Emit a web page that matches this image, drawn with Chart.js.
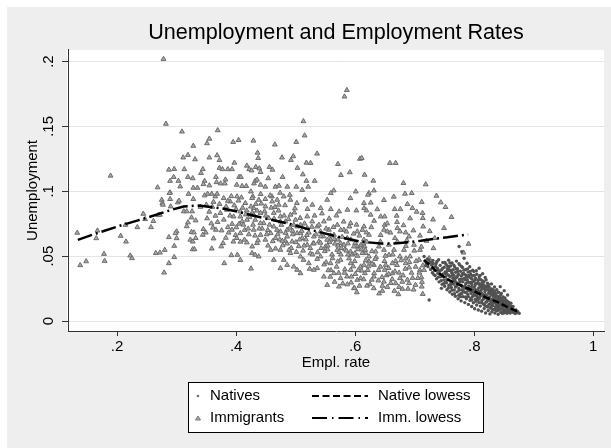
<!DOCTYPE html>
<html>
<head>
<meta charset="utf-8">
<script src="https://cdn.jsdelivr.net/npm/chart.js@4.4.1/dist/chart.umd.min.js"></script>
<style>
  body { margin: 0; background: #fff; }
  #wrap { width: 611px; height: 448px; }
</style>
</head>
<body>
<div id="wrap"><canvas id="chart" width="611" height="448"></canvas></div>
<script>
// tick values and labels
const xTicks = [0.2, 0.4, 0.6, 0.8, 1];
const xTickLabels = ['.2', '.4', '.6', '.8', '1'];
const yTicks = [0, 0.05, 0.1, 0.15, 0.2];
const yTickLabels = ['0', '.05', '.1', '.15', '.2'];

// [empl. rate, unemployment]
const immigrants = [
  [0.189,0.112],[0.268,0.103],[0.287,0.1166],[0.296,0.1171],[0.289,0.108],[0.295,0.111],[0.289,0.099],[0.289,0.094],
  [0.275,0.0934],[0.276,0.0909],[0.277,0.0896],[0.269,0.0816],[0.272,0.0819],[0.290,0.0883],[0.244,0.0826],[0.247,0.0785],
  [0.261,0.077],[0.257,0.0723],[0.234,0.0723],[0.214,0.0741],[0.206,0.0656],[0.215,0.0612],[0.167,0.0697],[0.165,0.0638],
  [0.133,0.068],[0.178,0.0517],[0.179,0.0463],[0.148,0.046],[0.138,0.043],[0.222,0.0504],[0.225,0.0484],[0.265,0.0523],
  [0.272,0.0527],[0.280,0.0548],[0.287,0.0646],[0.296,0.0579],[0.296,0.0492],[0.287,0.0445],[0.279,0.0373],[0.300,0.069],
  [0.300,0.0638],
  [0.278,0.202],[0.282,0.152],[0.309,0.146],[0.369,0.147],[0.355,0.1405],[0.351,0.137],[0.328,0.135],[0.395,0.138],
  [0.404,0.1395],[0.429,0.139],[0.465,0.136],[0.501,0.138],[0.513,0.154],[0.515,0.143],[0.586,0.178],[0.582,0.173],
  [0.536,0.129],[0.311,0.126],[0.319,0.128],[0.331,0.1246],[0.355,0.126],[0.368,0.1277],[0.372,0.124],[0.397,0.122],
  [0.436,0.1297],[0.437,0.1256],[0.477,0.126],[0.496,0.127],[0.492,0.124],[0.518,0.122],[0.525,0.1218],[0.503,0.118],
  [0.571,0.121],[0.576,0.1125],[0.591,0.1146],[0.608,0.125],[0.313,0.117],[0.344,0.117],[0.341,0.114],[0.372,0.118],
  [0.377,0.117],[0.386,0.117],[0.393,0.117],[0.418,0.1197],[0.422,0.117],[0.426,0.116],[0.433,0.1187],[0.439,0.1176],
  [0.441,0.1148],[0.456,0.1187],[0.461,0.1166],[0.512,0.113],[0.518,0.108],[0.532,0.108],[0.478,0.111],[0.303,0.108],
  [0.319,0.111],[0.327,0.110],[0.347,0.108],[0.345,0.1055],[0.355,0.1045],[0.366,0.111],[0.367,0.107],[0.374,0.106],
  [0.381,0.106],[0.382,0.109],[0.405,0.111],[0.408,0.111],[0.401,0.105],[0.417,0.104],[0.410,0.104],[0.430,0.106],
  [0.432,0.108],[0.454,0.110],[0.306,0.1037],[0.328,0.1027],[0.335,0.1027],[0.449,0.1035],[0.466,0.1035],[0.486,0.1035],
  [0.501,0.1035],[0.521,0.1035],[0.611,0.1256],[0.435,0.1089],[0.441,0.105],[0.472,0.1042],[0.511,0.101],[0.564,0.1006],
  [0.601,0.0998],[0.623,0.0986],[0.559,0.0986],[0.553,0.0934],[0.592,0.0947],
  [0.428,0.096],[0.438,0.0934],[0.449,0.094],[0.460,0.096],[0.469,0.0934],[0.480,0.096],[0.491,0.0934],[0.502,0.0909],
  [0.516,0.0934],[0.528,0.0896],[0.542,0.087],[0.559,0.0862],[0.573,0.0844],[0.587,0.0857],[0.602,0.0852],[0.615,0.087],
  [0.4295,0.087],[0.441,0.0833],[0.432,0.078],[0.4463,0.0754],[0.4547,0.0793],[0.4632,0.0833],[0.4744,0.0806],[0.4828,0.0767],
  [0.4912,0.0819],[0.4997,0.078],[0.5081,0.0741],[0.5194,0.0806],[0.5278,0.0767],[0.5362,0.0728],[0.5475,0.0767],[0.5559,0.0703],
  [0.570,0.0741],[0.581,0.0703],[0.5923,0.0754],[0.6035,0.069],[0.6147,0.0728],[0.6231,0.0664],
  [0.4295,0.0703],[0.441,0.0664],[0.435,0.060],[0.449,0.0626],[0.458,0.0677],[0.466,0.0639],[0.4744,0.069],[0.4857,0.0651],
  [0.494,0.0612],[0.5025,0.0677],[0.511,0.0639],[0.5194,0.0587],[0.5305,0.0651],[0.539,0.0612],[0.5502,0.0574],[0.5586,0.0626],
  [0.5699,0.0548],[0.581,0.0587],[0.5923,0.0535],[0.6035,0.0574],[0.6175,0.0523],[0.4267,0.0523],[0.4379,0.0497],[0.458,0.0548],
  [0.4744,0.0548],[0.4632,0.0471],[0.480,0.0471],[0.4912,0.0523],[0.5081,0.0497],[0.522,0.0445],[0.5418,0.0497],[0.5586,0.0445],
  [0.5754,0.0471],[0.5923,0.0445],[0.6091,0.0419],[0.6231,0.0458],[0.432,0.051],[0.5362,0.0407],[0.4968,0.0419],
  [0.4744,0.0407],[0.4857,0.0432],[0.5025,0.0394],[0.5081,0.0368],[0.5235,0.0402],[0.5305,0.0394],[0.5474,0.0342],[0.553,0.0278],
  [0.5643,0.0368],[0.5727,0.0265],[0.5754,0.033],[0.5979,0.0253],[0.5923,0.0394],[0.6035,0.0317],
  [0.288,0.0986],[0.302,0.0914],[0.304,0.0927],[0.320,0.098],[0.328,0.094],[0.347,0.0968],[0.352,0.098],[0.359,0.098],
  [0.365,0.096],[0.368,0.098],[0.312,0.0845],[0.317,0.0845],[0.326,0.0845],[0.34,0.088],[0.35,0.0896],[0.36,0.088],
  [0.325,0.0798],[0.332,0.0775],[0.319,0.076],[0.317,0.073],[0.298,0.0677],[0.323,0.0626],[0.327,0.0612],[0.332,0.0639],
  [0.325,0.0685],[0.329,0.0682],[0.345,0.0708],[0.349,0.0682],[0.344,0.0664],[0.361,0.072],[0.366,0.0703],[0.362,0.0636],
  [0.327,0.0553],[0.330,0.0553],[0.359,0.0558],[0.378,0.060],[0.375,0.0575],[0.380,0.0445],[0.392,0.0507],[0.402,0.051],
  [0.407,0.047],[0.425,0.0404],[0.386,0.0723],[0.393,0.0703],[0.399,0.0662],[0.401,0.0639],[0.407,0.0677],[0.414,0.0626],
  [0.418,0.0605],[0.427,0.0574],[0.405,0.0749],[0.41,0.0767],[0.407,0.0805],[0.4226,0.080],[0.427,0.0836],
  [0.3734,0.0832],[0.3846,0.0857],[0.3958,0.0805],[0.4071,0.0844],[0.4183,0.078],[0.4295,0.0819],[0.4407,0.0754],[0.4632,0.0728],
  [0.4744,0.0767],[0.4857,0.0703],[0.4969,0.0741],[0.5081,0.0677],[0.5194,0.0716],[0.5418,0.069],[0.553,0.0626],[0.5643,0.0664],
  [0.5754,0.060],[0.5867,0.0639],[0.5979,0.0574],
  [0.379,0.0947],[0.390,0.0921],[0.4015,0.096],[0.4155,0.0909],[0.4267,0.0947],[0.4492,0.0883],[0.4604,0.0921],[0.4716,0.0896],
  [0.6584,0.1218],[0.668,0.1218],[0.6158,0.1127],[0.6305,0.1081],[0.681,0.1063],[0.7185,0.1053],[0.6315,0.1006],[0.6214,0.0973],
  [0.6837,0.0981],[0.6949,0.0986],[0.7365,0.0965],[0.6147,0.0909],[0.6877,0.0901],[0.6961,0.087],[0.7118,0.0917],[0.7438,0.0914],
  [0.7517,0.0878],[0.6663,0.0862],[0.6697,0.0811],[0.6189,0.0852],[0.6259,0.0819],[0.6428,0.0805],[0.6495,0.0805],[0.7131,0.0832],
  [0.7135,0.0793],[0.7618,0.0801],[0.6495,0.0741],[0.6271,0.0723],[0.6189,0.0682],[0.6483,0.0703],[0.654,0.069],[0.6709,0.0716],
  [0.6752,0.069],[0.6848,0.0682],[0.7493,0.0716],[0.6668,0.0639],[0.6904,0.0651],[0.7337,0.0639],[0.6988,0.0587],[0.7089,0.0548],
  [0.7315,0.0561],[0.7904,0.0595],
  [0.6158,0.0574],[0.612,0.0523],[0.6231,0.0497],[0.6343,0.0535],[0.6399,0.0574],[0.6483,0.0548],[0.6567,0.051],[0.6652,0.0548],
  [0.6752,0.0497],[0.682,0.0548],[0.6921,0.0497],[0.6848,0.0445],[0.6625,0.0445],[0.6512,0.0432],[0.6315,0.0432],[0.6147,0.0432],
  [0.7074,0.0471],[0.7242,0.0484],[0.782,0.0527],
  [0.599,0.0253],[0.6456,0.0232],[0.6726,0.0206],[0.6793,0.0247],[0.6904,0.0291],[0.7118,0.0265],[0.7135,0.0208],[0.7113,0.0337],
  [0.6483,0.0303],[0.668,0.0291],[0.6752,0.033],[0.6625,0.0368],[0.6495,0.0394],[0.6315,0.0342],[0.6091,0.033],
  // dense centre
  [0.4436,0.0712],[0.4478,0.0845],[0.4512,0.0668],[0.4535,0.0581],[0.4561,0.0742],[0.4589,0.0873],[0.4614,0.0615],[0.4638,0.0789],
  [0.4662,0.0558],[0.4687,0.0702],[0.4713,0.0851],[0.4731,0.0628],[0.4759,0.0741],[0.4782,0.0583],[0.4806,0.0812],[0.4831,0.0679],
  [0.4855,0.0597],[0.4879,0.0785],[0.4903,0.0719],[0.4926,0.0562],[0.4951,0.0668],[0.4978,0.0836],[0.5003,0.0607],[0.5027,0.0728],
  [0.5052,0.0576],[0.5076,0.0794],[0.5101,0.0695],[0.5124,0.0542],[0.5149,0.0751],[0.5172,0.0628],[0.5198,0.0863],[0.5221,0.0681],
  [0.5246,0.0562],[0.5271,0.0726],[0.5294,0.0598],[0.5318,0.0812],[0.5343,0.0668],[0.5367,0.0529],[0.5391,0.0741],[0.5416,0.0603],
  [0.5441,0.0829],[0.5465,0.0652],[0.5489,0.0538],[0.5512,0.0712],[0.5538,0.0581],[0.5562,0.0789],[0.5587,0.0658],[0.5611,0.0512],
  [0.5634,0.0724],[0.5659,0.0596],[0.5684,0.0813],[0.5708,0.0627],[0.5731,0.0532],[0.5756,0.0702],[0.5781,0.0648],[0.5806,0.0766],
  [0.5829,0.0552],[0.5853,0.0689],[0.5877,0.0598],[0.5902,0.0728],[0.5926,0.0628],[0.5951,0.0512],[0.5974,0.0673],[0.5998,0.0601],
  [0.6022,0.0742],[0.6047,0.0552],[0.6071,0.0658],[0.6096,0.0586],[0.6121,0.0702],[0.6145,0.0627],[0.6169,0.0548],[0.6194,0.0611],
  [0.4823,0.0618],[0.4891,0.0548],[0.4948,0.0695],[0.5012,0.0532],[0.5068,0.0628],[0.5132,0.0471],[0.5188,0.0662],[0.5247,0.0521],
  [0.5306,0.0598],[0.5361,0.0478],[0.5422,0.0652],[0.5478,0.0436],[0.5536,0.0552],[0.5592,0.0392],[0.5651,0.0631],[0.5706,0.0458],
  [0.5142,0.0581],[0.5283,0.0512],[0.5427,0.0562],[0.5568,0.0608],[0.5711,0.0581],[0.5853,0.0542],[0.5996,0.0522],[0.6137,0.0598],
  // lower right
  [0.5512,0.0452],[0.5548,0.0391],[0.5581,0.0341],[0.5619,0.0483],[0.5654,0.0302],[0.5688,0.0418],[0.5723,0.0371],[0.5759,0.0512],
  [0.5791,0.0289],[0.5826,0.0398],[0.5862,0.0343],[0.5897,0.0482],[0.5931,0.0296],[0.5968,0.0421],[0.6003,0.0362],[0.6038,0.0502],
  [0.6072,0.0271],[0.6107,0.0388],[0.6143,0.0321],[0.6178,0.0468],[0.6212,0.0392],[0.6247,0.0283],[0.6283,0.0441],[0.6318,0.0368],
  [0.6352,0.0492],[0.6388,0.0312],[0.6423,0.0418],[0.6457,0.0271],[0.6492,0.0462],[0.6527,0.0352],[0.6562,0.0408],[0.6597,0.0292],
  [0.6631,0.0512],[0.6668,0.0382],[0.6702,0.0431],[0.6737,0.0262],[0.6772,0.0468],[0.6806,0.0351],[0.6842,0.0402],[0.6877,0.0318],
  [0.6912,0.0453],[0.6946,0.0372],[0.6981,0.0242],[0.7016,0.0418],[0.7052,0.0331],[0.7087,0.0392],[0.7122,0.0301],[0.7158,0.0392],
  [0.5766,0.0562],[0.5821,0.0372],[0.5878,0.0512],[0.5937,0.0342],[0.5992,0.0461],[0.6051,0.0392],[0.6106,0.0552],[0.6163,0.0368],
  [0.6222,0.0421],[0.6278,0.0318],[0.6337,0.0478],[0.6392,0.0392],[0.6451,0.0338],[0.6506,0.0502],[0.6563,0.0362],[0.6622,0.0322],
  [0.6678,0.0462],[0.6737,0.0372],[0.6792,0.0302],[0.6851,0.0482],[0.6906,0.0412],[0.6963,0.0332],[0.7022,0.0461],[0.7078,0.0372],
  [0.7137,0.0428],[0.6198,0.0272],[0.6312,0.0252],[0.6541,0.0262],[0.6658,0.0232],[0.6887,0.0248],[0.7013,0.0278],[0.5868,0.0282],
  [0.6027,0.0221],[0.6402,0.0212],[0.6282,0.0538],[0.6423,0.0612],[0.6566,0.0588],[0.6708,0.0612],[0.6852,0.0578],[0.6993,0.0542],
  [0.7112,0.0572],
  // centre left
  [0.3512,0.0791],[0.3548,0.0842],[0.3583,0.0752],[0.3619,0.0918],[0.3652,0.0811],[0.3688,0.0763],[0.3721,0.0902],[0.3756,0.0698],
  [0.3792,0.0781],[0.3826,0.0641],[0.3861,0.0926],[0.3897,0.0812],[0.3932,0.0748],[0.3968,0.0891],[0.4003,0.0722],[0.4038,0.0928],
  [0.4072,0.0611],[0.4108,0.0873],[0.4143,0.0702],[0.4178,0.0851],[0.4213,0.0668],[0.4248,0.0882],[0.4283,0.0742],[0.4318,0.0658],
  [0.4352,0.0851],[0.4388,0.0712],[0.4422,0.0905],
  [0.3832,0.0882],[0.3918,0.0962],[0.3998,0.0862],[0.4089,0.0952],[0.4162,0.0821],[0.4247,0.0998],[0.4331,0.0902],[0.4412,0.0978],
  [0.4498,0.0812],[0.4571,0.0968],[0.4652,0.0878],[0.4738,0.0988],[0.4821,0.0892],[0.4902,0.0972],[0.4987,0.0868],
  [0.3872,0.0681],[0.3953,0.0612],[0.4122,0.0742],[0.4203,0.0712],[0.4368,0.0622],[0.4532,0.0701],[0.4697,0.0668],[0.4776,0.0618],
  // upper right of centre
  [0.6261,0.0912],[0.6318,0.0772],[0.6372,0.0861],[0.6428,0.0662],[0.6483,0.0932],[0.6538,0.0752],[0.6592,0.0681],[0.6648,0.0958],
  [0.6703,0.0762],[0.6759,0.0862],[0.6812,0.0738],[0.6868,0.0622],[0.6922,0.0791],[0.6978,0.0698],[0.7032,0.0842],[0.7088,0.0658],
  [0.7142,0.0728],[0.7198,0.0618],[0.7252,0.0692],[0.7308,0.0782]
];

const natives = [
  [0.7158,0.0497],[0.7172,0.0462],[0.7195,0.0441],[0.7213,0.0478],[0.7224,0.0419],[0.7242,0.0162],[0.7251,0.0455],[0.7268,0.0398],
  [0.7283,0.0431],[0.7297,0.0372],[0.7306,0.0466],[0.7318,0.0412],[0.7335,0.0389],[0.7342,0.0351],[0.7359,0.0443],[0.7366,0.0325],
  [0.7381,0.0407],[0.7388,0.0368],[0.7402,0.0472],[0.7409,0.0302],[0.7417,0.0384],[0.7428,0.0429],[0.7436,0.0341],[0.7449,0.0252],
  [0.7453,0.0395],[0.7461,0.0283],[0.7472,0.0451],[0.7478,0.0362],[0.7486,0.0317],[0.7495,0.0415],[0.7503,0.0268],[0.7511,0.0378],
  [0.7519,0.0339],[0.7527,0.0437],[0.7533,0.0295],[0.7542,0.0241],[0.7548,0.0402],[0.7556,0.0357],[0.7561,0.0318],[0.7569,0.0468],
  [0.7574,0.0276],[0.7582,0.0389],[0.7589,0.0224],[0.7596,0.0341],[0.7603,0.0425],[0.7608,0.0301],[0.7615,0.0258],[0.7622,0.0372],
  [0.7628,0.0447],[0.7634,0.0206],[0.7641,0.0329],[0.7647,0.0395],[0.7653,0.0284],[0.7659,0.0352],[0.7664,0.0239],[0.7671,0.0418],
  [0.7677,0.0311],[0.7683,0.0191],[0.7689,0.0376],[0.7694,0.0265],[0.7701,0.0462],[0.7706,0.0338],[0.7712,0.0225],[0.7718,0.0403],
  [0.7723,0.0292],[0.7729,0.0172],[0.7735,0.0359],[0.7741,0.0251],[0.7746,0.0574],[0.7752,0.0321],[0.7757,0.0431],[0.7763,0.0208],
  [0.7768,0.0384],[0.7774,0.0276],[0.7779,0.0155],[0.7785,0.0347],[0.7791,0.0535],[0.7796,0.0239],[0.7802,0.0412],[0.7807,0.0302],
  [0.7813,0.0188],[0.7818,0.0369],[0.7824,0.0262],[0.7829,0.0484],[0.7835,0.0331],[0.7841,0.0142],[0.7846,0.0221],[0.7852,0.0396],
  [0.7857,0.0287],[0.7863,0.0354],[0.7868,0.0172],[0.7874,0.0249],[0.7879,0.0445],[0.7885,0.0316],[0.7891,0.0205],[0.7896,0.0378],
  [0.7902,0.0128],[0.7907,0.0271],[0.7913,0.0339],[0.7918,0.0232],[0.7924,0.0418],[0.7929,0.0159],[0.7935,0.0297],[0.7941,0.0361],
  [0.7946,0.0213],[0.7952,0.0258],[0.7957,0.0112],[0.7963,0.0325],[0.7968,0.0187],[0.7974,0.0392],[0.7979,0.0242],[0.7985,0.0141],
  [0.7991,0.0306],[0.7996,0.0219],[0.8002,0.0351],[0.8007,0.0094],[0.8013,0.0271],[0.8018,0.0168],[0.8024,0.0331],[0.8029,0.0203],
  [0.8035,0.0387],[0.8041,0.0124],[0.8046,0.0289],[0.8052,0.0237],[0.8057,0.0178],[0.8063,0.0312],[0.8068,0.0085],[0.8074,0.0254],
  [0.8079,0.0142],[0.8082,0.0407],[0.8085,0.0341],[0.8091,0.0211],[0.8096,0.0276],[0.8102,0.0115],[0.8107,0.0192],[0.8113,0.0318],
  [0.8118,0.0239],[0.8124,0.0076],[0.8129,0.0158],[0.8135,0.0282],[0.8141,0.0365],[0.8146,0.0204],[0.8152,0.0131],[0.8157,0.0251],
  [0.8163,0.0301],[0.8168,0.0097],[0.8174,0.0177],[0.8179,0.0228],[0.8185,0.0336],[0.8191,0.0062],[0.8196,0.0145],[0.8202,0.0267],
  [0.8207,0.0196],[0.8213,0.0112],[0.8218,0.0241],[0.8224,0.0292],[0.8229,0.0163],[0.8235,0.0081],[0.8241,0.0214],[0.8246,0.0128],
  [0.8252,0.0262],[0.8257,0.0185],[0.8263,0.0055],[0.8268,0.0232],[0.8274,0.0102],[0.8279,0.0149],[0.8285,0.0204],[0.8291,0.0286],
  [0.8296,0.0071],[0.8302,0.0169],[0.8307,0.0243],[0.8313,0.0119],[0.8318,0.0191],[0.8324,0.0088],[0.8329,0.0223],[0.8335,0.0142],
  [0.8341,0.0262],[0.8346,0.0062],[0.8352,0.0176],[0.8357,0.0108],[0.8363,0.0209],[0.8368,0.0131],[0.8374,0.0078],[0.8379,0.0241],
  [0.8385,0.0158],[0.8391,0.0098],[0.8396,0.0192],[0.8402,0.0052],[0.8407,0.0125],[0.8413,0.0221],[0.8418,0.0168],[0.8424,0.0089],
  [0.8429,0.0141],[0.8436,0.0265],[0.8441,0.0198],[0.8446,0.0067],[0.8452,0.0115],[0.8457,0.0172],[0.8463,0.0092],[0.8468,0.0146],
  [0.8474,0.0058],[0.8479,0.0124],[0.8485,0.0185],[0.8491,0.0079],[0.8496,0.0106],[0.8503,0.0234],[0.8508,0.0148],[0.8513,0.0064],
  [0.8519,0.0118],[0.8524,0.0088],[0.8531,0.0161],[0.8537,0.0072],[0.8542,0.0105],[0.8548,0.0131],[0.8553,0.0059],[0.8561,0.0201],
  [0.8566,0.0092],[0.8572,0.0118],[0.8579,0.0071],[0.8585,0.0143],[0.8592,0.0083],[0.8598,0.0104],[0.8605,0.0062],[0.8616,0.0137],
  [0.8623,0.0077],[0.8631,0.0095],[0.8645,0.0072],[0.8652,0.0112],[0.8661,0.0066],[0.8674,0.0081],[0.8688,0.0058],[0.8700,0.0085],
  [0.8716,0.0064],[0.8732,0.0071],[0.8756,0.0059],
  [0.7189,0.0428],[0.7236,0.0471],[0.7277,0.0452],[0.7321,0.0358],[0.7352,0.0421],[0.7373,0.0459],[0.7395,0.0338],[0.7423,0.0361],
  [0.7442,0.0311],[0.7467,0.0405],[0.7491,0.0288],[0.7508,0.0451],[0.7524,0.0362],[0.7539,0.0318],[0.7553,0.0422],[0.7566,0.0255],
  [0.7579,0.0349],[0.7592,0.0448],[0.7611,0.0391],[0.7625,0.0289],[0.7638,0.0352],[0.7656,0.0431],[0.7668,0.0211],[0.7686,0.0332],
  [0.7698,0.0402],[0.7715,0.0275],[0.7726,0.0351],[0.7744,0.0442],[0.7759,0.0302],[0.7771,0.0188],[0.7788,0.0421],[0.7799,0.0321],
  [0.7816,0.0232],[0.7827,0.0392],[0.7844,0.0269],[0.7855,0.0185],[0.7871,0.0338],[0.7888,0.0402],[0.7899,0.0236],[0.7916,0.0298],
  [0.7932,0.0382],[0.7943,0.0172],[0.7959,0.0281],[0.7971,0.0349],[0.7988,0.0198],[0.7999,0.0262],[0.8016,0.0318],[0.8027,0.0152],
  [0.8043,0.0361],[0.8055,0.0212],[0.8071,0.0291],[0.8088,0.0178],[0.8099,0.0352],[0.8116,0.0262],[0.8127,0.0212],[0.8144,0.0308],
  [0.8155,0.0169],[0.8171,0.0272],[0.8188,0.0203],[0.8199,0.0318],[0.8216,0.0152],[0.8227,0.0268],[0.8244,0.0182],[0.8255,0.0225],
  [0.8271,0.0131],[0.8288,0.0248],[0.8299,0.0118],[0.8316,0.0212],[0.8327,0.0165],[0.8344,0.0232],[0.8355,0.0142],[0.8371,0.0188],
  [0.8388,0.0121],[0.8399,0.0222],[0.8416,0.0108],[0.8427,0.0182],[0.8444,0.0152],[0.8455,0.0212],[0.8471,0.0102],[0.8488,0.0158],
  [0.8499,0.0132],[0.8516,0.0178],[0.8527,0.0112],[0.8544,0.0082],[0.8556,0.0152],[0.8571,0.0098],[0.8588,0.0121],[0.8609,0.0092],
  [0.8627,0.0115],[0.8641,0.0088],
  [0.7312,0.0442],[0.7397,0.0392],[0.7458,0.0346],[0.7512,0.0298],[0.7537,0.0381],[0.7571,0.0412],[0.7602,0.0282],[0.7631,0.0368],
  [0.7663,0.0318],[0.7692,0.0298],[0.7721,0.0382],[0.7749,0.0238],[0.7776,0.0322],[0.7803,0.0262],[0.7832,0.0361],[0.7861,0.0221],
  [0.7887,0.0298],[0.7914,0.0256],[0.7942,0.0331],[0.7969,0.0228],[0.7994,0.0382],[0.8021,0.0241],[0.8049,0.0192],[0.8077,0.0321],
  [0.8104,0.0228],[0.8131,0.0261],[0.8159,0.0188],[0.8187,0.0262],[0.8214,0.0178],[0.8242,0.0241],[0.8269,0.0162],[0.8297,0.0208],
  [0.8324,0.0141],[0.8351,0.0198],[0.8378,0.0138],[0.8406,0.0172],[0.8433,0.0121],[0.8461,0.0131],[0.8489,0.0112],[0.8517,0.0141],
  [0.8544,0.0118],[0.8576,0.0108],
  [0.7626,0.0238],[0.7684,0.0262],[0.7738,0.0198],[0.7792,0.0212],[0.7848,0.0252],[0.7903,0.0188],[0.7958,0.0162],[0.8012,0.0198],
  [0.8066,0.0162],[0.8121,0.0142],[0.8176,0.0122],[0.8231,0.0108],[0.8286,0.0098],[0.8341,0.0092],[0.8396,0.0082],
  [0.7798,0.0362],[0.7852,0.0318],[0.7908,0.0352],[0.7962,0.0302],[0.8018,0.0288],[0.8072,0.0228],[0.8126,0.0292],[0.8182,0.0248],
  [0.8237,0.0282],[0.8292,0.0228],[0.8347,0.0212]
];

const natLowess = [
  [0.7158,0.047],[0.735,0.039],[0.755,0.032],[0.78,0.027],[0.80,0.023],[0.82,0.018],[0.84,0.0145],[0.857,0.0105],[0.872,0.0075]
];

const immLowess = [
  [0.134,0.0626],[0.165,0.0675],[0.2045,0.0734],[0.2477,0.0793],[0.2914,0.0857],[0.3116,0.0883],[0.337,0.0890],[0.3734,0.0870],
  [0.4015,0.0844],[0.4463,0.0793],[0.4857,0.0754],[0.525,0.0703],[0.5699,0.0651],[0.6091,0.0612],[0.6483,0.0595],[0.6652,0.0598],
  [0.6904,0.0608],[0.7102,0.0618],[0.7354,0.0636],[0.755,0.0645],[0.7803,0.0662],[0.7897,0.0668]
];

const FONT = '"Liberation Sans", Arial, Helvetica, sans-serif';
const toXY = arr => arr.map(p => ({ x: p[0], y: p[1] }));

// grey graph region, white plot region
const backdrop = {
    id: 'backdrop',
    beforeDraw(chart) {
        const c = chart.ctx;
        const a = chart.chartArea;
        c.save();
        c.fillStyle = '#ffffff';
        c.fillRect(0, 0, chart.width, chart.height);
        c.fillStyle = '#eeeeee';
        c.fillRect(7, 7, chart.width - 7, chart.height - 7);
        c.fillStyle = '#ffffff';
        c.fillRect(a.left - 1, a.top, a.right - a.left + 1, a.bottom - a.top);
        c.restore();
    }
};

// Stata style boxed legend, two columns
const boxLegend = {
    id: 'boxLegend',
    afterDraw(chart) {
        const c = chart.ctx;
        c.save();
        c.fillStyle = '#ffffff';
        c.fillRect(188, 382, 295, 50);
        c.strokeStyle = '#000000';
        c.lineWidth = 1;
        c.strokeRect(188.5, 382.5, 295, 50);

        c.font = '15px ' + FONT;
        c.fillStyle = '#000000';
        c.textBaseline = 'middle';
        c.textAlign = 'left';
        c.fillText('Natives', 210, 396);
        c.fillText('Immigrants', 210, 418);
        c.fillText('Native lowess', 378, 396);
        c.fillText('Imm. lowess', 378, 418);

        // markers
        c.fillStyle = '#707070';
        c.beginPath();
        c.arc(198, 396, 1.3, 0, Math.PI * 2);
        c.fill();
        c.beginPath();
        c.moveTo(198, 416);
        c.lineTo(200.5, 420);
        c.lineTo(195.5, 420);
        c.closePath();
        c.fillStyle = '#a8a8a8';
        c.fill();
        c.strokeStyle = '#7a7a7a';
        c.stroke();

        // line samples
        c.strokeStyle = '#000000';
        c.lineWidth = 2;
        c.setLineDash([7, 3.5]);
        c.beginPath();
        c.moveTo(312, 396);
        c.lineTo(368, 396);
        c.stroke();
        c.setLineDash([15, 5, 1.5, 5]);
        c.beginPath();
        c.moveTo(312, 418);
        c.lineTo(368, 418);
        c.stroke();
        c.restore();
    }
};

const ctx = document.getElementById('chart').getContext('2d');
const chart = new Chart(ctx, {
    type: 'scatter',
    data: {
        datasets: [{
            label: 'Imm. lowess',
            data: toXY(immLowess),
            showLine: true,
            borderColor: '#000000',
            borderWidth: 2.5,
            borderDash: [15, 4, 2, 4],
            pointRadius: 0,
            order: 0
        },
        {
            label: 'Native lowess',
            data: toXY(natLowess),
            showLine: true,
            borderColor: '#000000',
            borderWidth: 2.5,
            borderDash: [7, 3],
            pointRadius: 0,
            order: 1
        },
        {
            label: 'Natives',
            data: toXY(natives),
            pointStyle: 'circle',
            pointRadius: 1.7,
            borderWidth: 0,
            backgroundColor: '#525252',
            order: 2
        },
        {
            label: 'Immigrants',
            data: toXY(immigrants),
            pointStyle: 'triangle',
            pointRadius: 2.8,
            borderWidth: 1,
            borderColor: '#6c6c6c',
            backgroundColor: '#a8a8a8',
            order: 3
        }]
    },
    options: {
        responsive: false,
        animation: false,
        events: [],
        layout: { padding: { left: 0, right: 7, top: 0, bottom: 0 } },
        plugins: {
            legend: { display: false },
            tooltip: { enabled: false },
            title: {
                display: true,
                fullSize: false,
                text: 'Unemployment and Employment Rates',
                color: '#000000',
                font: { family: FONT, size: 21.6, weight: 'normal' },
                padding: { top: 20, bottom: 4 }
            }
        },
        scales: {
            x: {
                type: 'linear',
                min: 0.1175,
                max: 1.018,
                afterBuildTicks: s => { s.ticks = xTicks.map(v => ({ value: v })); },
                afterFit: s => { s.height = 117; },
                ticks: {
                    color: '#000000',
                    font: { family: FONT, size: 15 },
                    padding: 2,
                    maxRotation: 0,
                    callback: (v, i) => xTickLabels[i]
                },
                grid: {
                    drawOnChartArea: false,
                    drawTicks: true,
                    tickLength: 5,
                    tickColor: '#333333'
                },
                border: { display: true, color: '#333333', width: 1 },
                title: {
                    display: true,
                    text: 'Empl. rate',
                    color: '#000000',
                    font: { family: FONT, size: 15 },
                    padding: { top: 0, bottom: 76 }
                }
            },
            y: {
                type: 'linear',
                min: -0.0077,
                max: 0.209,
                afterBuildTicks: s => { s.ticks = yTicks.map(v => ({ value: v })); },
                afterFit: s => { s.width = 68; },
                ticks: {
                    color: '#000000',
                    font: { family: FONT, size: 15 },
                    padding: 2.5,
                    minRotation: 90,
                    maxRotation: 90,
                    crossAlign: 'center',
                    callback: (v, i) => yTickLabels[i]
                },
                grid: {
                    color: '#e4e4e4',
                    lineWidth: 1,
                    drawTicks: true,
                    tickLength: 6,
                    tickColor: '#333333'
                },
                border: { display: true, color: '#333333', width: 1 },
                title: {
                    display: true,
                    text: 'Unemployment',
                    color: '#000000',
                    font: { family: FONT, size: 15 },
                    padding: { top: 24, bottom: 0 }
                }
            }
        }
    },
    plugins: [backdrop, boxLegend]
});
</script>
</body>
</html>
